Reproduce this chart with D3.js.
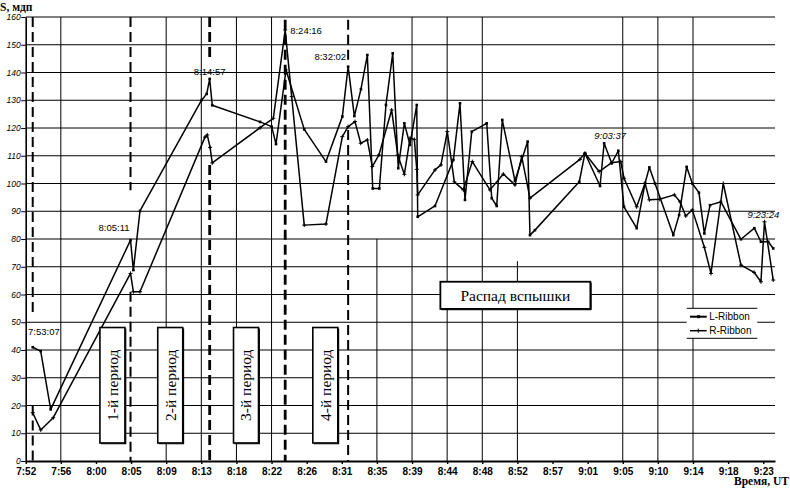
<!DOCTYPE html>
<html>
<head>
<meta charset="utf-8">
<script src="https://cdn.jsdelivr.net/npm/d3@7"></script>
<style>
  body { margin: 0; background: #fff; }
  svg { display: block; }
</style>
</head>
<body>
<div id="chart"></div>
<script>
// ---- data ----
const xTickTimes = ["7:52:15","7:56:35","8:00:55","8:05:15","8:09:35","8:13:55","8:18:15","8:22:35",
  "8:26:55","8:31:15","8:35:35","8:39:55","8:44:15","8:48:35","8:52:55","8:57:15","9:01:35",
  "9:05:55","9:10:15","9:14:35","9:18:55","9:23:15"];
const yTickValues = [0,10,20,30,40,50,60,70,80,90,100,110,120,130,140,150,160];

const lTimes = ["7:53:07","7:54:06","7:55:20","8:05:11","8:05:32","8:06:21","8:13:58","8:14:35","8:14:57",
  "8:15:16","8:21:10","8:22:36","8:23:08","8:24:22","8:26:37","8:29:18","8:31:19","8:32:02","8:32:48",
  "8:33:37","8:34:24","8:35:04","8:35:53","8:36:42","8:37:32","8:38:13","8:38:58","8:39:40","8:40:30",
  "8:40:37","8:42:45","8:45:01","8:45:50","8:46:27","8:47:17","8:49:08","8:49:45","8:50:22","8:51:03",
  "8:52:37","8:54:11","8:54:28","8:55:05","9:00:33","9:01:15","9:03:07","9:03:37","9:04:33","9:05:22",
  "9:06:04","9:07:38","9:08:40","9:09:12","9:09:54","9:12:09","9:12:52","9:13:48","9:14:30","9:15:19",
  "9:15:59","9:16:41","9:18:02","9:20:30","9:22:09","9:22:58","9:23:52","9:24:29"];
const lValues = [41,39.6,18.6,79.6,68.8,90.1,130.1,132.3,137.7,
  128.2,122.2,120.5,114.2,140.9,119.5,107.9,124.1,142.1,124.3,
  134,146.3,98.2,98.2,128.3,146.9,105.5,121.7,113.9,128.3,
  88,91.9,108.5,128.9,94.1,118.7,121.7,94.7,91.9,122.9,
  101,115.1,81.4,83.2,100.6,110.9,99.1,114.5,107.3,111.8,
  91.6,83.9,100.1,105.8,100,81.4,88.6,106,100,96.7,
  82,92.2,93.4,79.9,83.9,79,79,76.6];

const rTimes = ["7:53:07","7:54:06","7:55:39","8:05:11","8:05:32","8:06:21","8:14:22","8:14:39","8:15:00",
  "8:15:16","8:21:10","8:22:48","8:24:16","8:25:04","8:26:37","8:29:18","8:31:19","8:32:02","8:32:53",
  "8:33:35","8:34:24","8:35:01","8:35:50","8:37:24","8:38:09","8:38:58","8:39:40","8:40:12","8:40:30",
  "8:40:37","8:42:45","8:43:29","8:44:16","8:45:08","8:46:15","8:47:21","8:49:32","8:51:11","8:52:37",
  "8:53:27","8:54:28","9:00:38","9:01:15","9:03:00","9:04:33","9:05:40","9:06:04","9:07:38","9:08:40",
  "9:09:12","9:10:26","9:12:17","9:12:59","9:13:41","9:14:30","9:15:59","9:16:48","9:18:19","9:20:30",
  "9:22:07","9:22:58","9:23:24","9:24:29"];
const rValues = [17.4,11.2,15.6,67.6,61,61,116.7,117.5,113,
  107.4,120.1,123.5,155.3,131.3,85,85.4,116.9,120.5,122.3,
  114.5,115.7,106.1,110.3,126.5,110.3,103.3,116.3,115.9,105.1,
  95.9,104.9,106.7,118.7,100.6,97.7,107.9,97.7,103.4,99.5,
  109.7,94.7,108.7,110.9,104.3,107.5,107.9,101.9,91.6,100.1,
  94.1,94.3,95.9,93.4,88.3,90.5,77,67.6,100,70.6,
  68,64.6,86.2,65.2];

const seriesNames = ["L-Ribbon", "R-Ribbon"];

// flare phase boundaries (dashed lines) and labelled moments
const eventTimes = ["7:53:07","8:05:11","8:14:57","8:24:16","8:32:02"];
const peakLabelTimes = ["7:53:07","8:05:11","8:14:57","8:24:16","8:32:02","9:03:37","9:23:24"];
const periodNames = ["1-й период","2-й период","3-й период","4-й период"];
const periodCenters = ["8:02:57","8:10:05","8:19:26","8:29:13"];
const decayName = "Распад вспышки";
const decayCenter = "8:52:40";

// ---- layout ----
const W = 790, H = 488;
const parse = d3.timeParse("%H:%M:%S");
const fmt = d3.timeFormat("%-H:%M");

const x = d3.scaleTime()
  .domain([parse("7:52:15"), parse("9:24:42")])
  .range([25.7, 775]);
const y = d3.scaleLinear().domain([0, 160]).range([461, 17]);

const svg = d3.select("#chart").append("svg")
  .attr("width", W).attr("height", H)
  .attr("font-family", "Arial, 'Liberation Sans', sans-serif");

// horizontal gridlines
svg.append("g").selectAll("line")
  .data(yTickValues.filter(v => v > 0))
  .join("line")
  .attr("x1", x.range()[0]).attr("x2", x.range()[1])
  .attr("y1", d => y(d)).attr("y2", d => y(d))
  .attr("stroke", "#000").attr("stroke-width", 1);

// vertical gridlines (only some survive in the original figure)
const vGrid = [
  { t: "7:56:35", top: 160 }, { t: "8:09:35", top: 160 }, { t: "8:13:55", top: 160 },
  { t: "8:18:15", top: 160 }, { t: "8:22:35", top: 160 }, { t: "8:35:35", top: 80 },
  { t: "8:39:55", top: 160 }, { t: "8:44:15", top: 160 }, { t: "8:48:35", top: 160 },
  { t: "8:52:55", top: 72 }, { t: "9:05:55", top: 160 }, { t: "9:10:15", top: 160 },
  { t: "9:14:35", top: 160 }
];
svg.append("g").selectAll("line")
  .data(vGrid)
  .join("line")
  .attr("x1", d => x(parse(d.t))).attr("x2", d => x(parse(d.t)))
  .attr("y1", d => y(d.top)).attr("y2", y(0))
  .attr("stroke", "#000").attr("stroke-width", 1);

// dashed phase boundaries, with the gaps seen in the original
const dashSegs = [
  { w: 2,   segs: [[52, 160], [0, 20]] },
  { w: 2,   segs: [[97.6, 160], [0, 61]] },
  { w: 2.8, segs: [[143.8, 160], [0, 106.7]] },
  { w: 2.8, segs: [[0, 159]] },
  { w: 2,   segs: [[144.5, 159], [0, 119.3]] }
];
eventTimes.forEach((t, i) => {
  const xx = x(parse(t));
  dashSegs[i].segs.forEach(s => {
    svg.append("line")
      .attr("x1", xx).attr("x2", xx)
      .attr("y1", y(s[1])).attr("y2", y(s[0]))
      .attr("stroke", "#000")
      .attr("stroke-width", dashSegs[i].w)
      .attr("stroke-dasharray", "10,5");
  });
});

// axes
const yAxis = svg.append("g")
  .attr("transform", `translate(${x.range()[0]},0)`)
  .call(d3.axisLeft(y).tickValues(yTickValues).tickSize(4.5).tickPadding(0.5).tickSizeOuter(0));
yAxis.select(".domain").attr("stroke-width", 1.6);
yAxis.selectAll(".tick line").attr("stroke-width", 1);
yAxis.selectAll("text")
  .attr("font-size", 8.5).attr("font-style", "italic")
  .attr("font-family", "Arial, 'Liberation Sans', sans-serif").attr("fill", "#000");

const xAxis = svg.append("g")
  .attr("transform", `translate(0,${y(0)})`)
  .call(d3.axisBottom(x).tickValues(xTickTimes.map(parse)).tickFormat(fmt)
    .tickSize(3).tickPadding(4).tickSizeOuter(0));
xAxis.select(".domain").attr("stroke-width", 2.2);
xAxis.selectAll(".tick line").attr("stroke-width", 1.4);
xAxis.selectAll("text")
  .attr("font-size", 10).attr("font-weight", "bold")
  .attr("font-family", "Arial, 'Liberation Sans', sans-serif").attr("fill", "#000");

// axis titles
svg.append("text").attr("x", 0).attr("y", 10.5)
  .attr("font-family", "'Liberation Serif', 'DejaVu Serif', serif")
  .attr("font-weight", "bold").attr("font-size", 11.5)
  .text("S, мдп");
svg.append("text").attr("x", 789).attr("y", 485).attr("text-anchor", "end")
  .attr("font-family", "'Liberation Serif', 'DejaVu Serif', serif")
  .attr("font-weight", "bold").attr("font-size", 11.5)
  .text("Время, UT");

// data lines
const line = d3.line().x(d => x(d.t)).y(d => y(d.v));
const lData = lTimes.map((t, i) => ({ t: parse(t), v: lValues[i] }));
const rData = rTimes.map((t, i) => ({ t: parse(t), v: rValues[i] }));

[lData, rData].forEach(data => {
  svg.append("path").datum(data)
    .attr("d", line)
    .attr("fill", "none").attr("stroke", "#000")
    .attr("stroke-width", 1.5).attr("stroke-linejoin", "round");
});

// markers: small squares for L, plus signs for R
svg.append("g").selectAll("rect").data(lData).join("rect")
  .attr("x", d => x(d.t) - 1.3).attr("y", d => y(d.v) - 1.3)
  .attr("width", 2.6).attr("height", 2.6).attr("fill", "#000");
svg.append("g").selectAll("path").data(rData).join("path")
  .attr("d", d => `M${x(d.t) - 2},${y(d.v)}h4M${x(d.t)},${y(d.v) - 2}v4`)
  .attr("stroke", "#000").attr("stroke-width", 1);

// moment labels
const peakLabels = [
  { v: 46.5, anchor: "start",  dx: -4.7, italic: false },
  { v: 84,   anchor: "end",    dx: -1,   italic: false },
  { v: 140.2, anchor: "middle", dx: 0,   italic: false },
  { v: 155,  anchor: "start",  dx: 5,    italic: false },
  { v: 145.6, anchor: "end",   dx: -2,   italic: false },
  { v: 117.1, anchor: "middle", dx: 6,   italic: true },
  { v: 88.6, anchor: "middle", dx: -1,   italic: true }
];
peakLabelTimes.forEach((t, i) => {
  const p = peakLabels[i];
  svg.append("text")
    .attr("x", x(parse(t)) + p.dx).attr("y", y(p.v))
    .attr("dy", "0.35em")
    .attr("text-anchor", p.anchor)
    .attr("font-size", 9.5)
    .attr("font-style", p.italic ? "italic" : "normal")
    .text(t);
});

// period boxes
const serif = "'Liberation Serif', 'Times New Roman', serif";
periodNames.forEach((name, i) => {
  const cx = x(parse(periodCenters[i]));
  const top = y(48.1), bot = y(6.5);
  svg.append("rect")
    .attr("x", cx - 12.5).attr("y", top)
    .attr("width", 25).attr("height", bot - top)
    .attr("fill", "#fff").attr("stroke", "#000").attr("stroke-width", 1.6);
  svg.append("path")
    .attr("d", `M${cx + 13.3},${top + 1}V${bot + 0.8}H${cx - 11.5}`)
    .attr("fill", "none").attr("stroke", "#000").attr("stroke-width", 1.2);
  svg.append("text")
    .attr("transform", `translate(${cx},${(top + bot) / 2}) rotate(-90)`)
    .attr("text-anchor", "middle").attr("dy", "0.35em")
    .attr("font-family", serif).attr("font-size", 15.5)
    .text(name);
});

// decay box
{
  const cx = x(parse(decayCenter));
  const top = y(64.6), bot = y(54.8);
  svg.append("rect")
    .attr("x", cx - 75).attr("y", top)
    .attr("width", 150).attr("height", bot - top)
    .attr("fill", "#fff").attr("stroke", "#000").attr("stroke-width", 1.8);
  svg.append("path")
    .attr("d", `M${cx + 75.8},${top + 1}V${bot + 0.8}H${cx - 74}`)
    .attr("fill", "none").attr("stroke", "#000").attr("stroke-width", 1);
  svg.append("text")
    .attr("x", cx).attr("y", (top + bot) / 2).attr("dy", "0.35em")
    .attr("text-anchor", "middle")
    .attr("font-family", serif).attr("font-size", 15.5)
    .text(decayName);
}

// legend
const lg = svg.append("g").attr("transform", "translate(686.7,308.3)");
lg.append("rect").attr("width", 70.6).attr("height", 30).attr("fill", "#fff");
lg.append("line").attr("x1", 0).attr("x2", 70.6).attr("stroke", "#000");
lg.append("line").attr("x1", 0).attr("x2", 70.6).attr("y1", 30).attr("y2", 30).attr("stroke", "#000");
seriesNames.forEach((name, i) => {
  const yy = 8.4 + i * 14;
  lg.append("line").attr("x1", 3.3).attr("x2", 20).attr("y1", yy).attr("y2", yy)
    .attr("stroke", "#000").attr("stroke-width", i === 0 ? 2 : 1.5);
  if (i === 0) {
    lg.append("rect").attr("x", 10.4).attr("y", yy - 1.5).attr("width", 3).attr("height", 3);
  } else {
    lg.append("path").attr("d", `M11.6,${yy - 2}v4`).attr("stroke", "#000");
  }
  lg.append("text").attr("x", 22.5).attr("y", yy).attr("dy", "0.35em")
    .attr("font-size", 10).text(name);
});
</script>
</body>
</html>
